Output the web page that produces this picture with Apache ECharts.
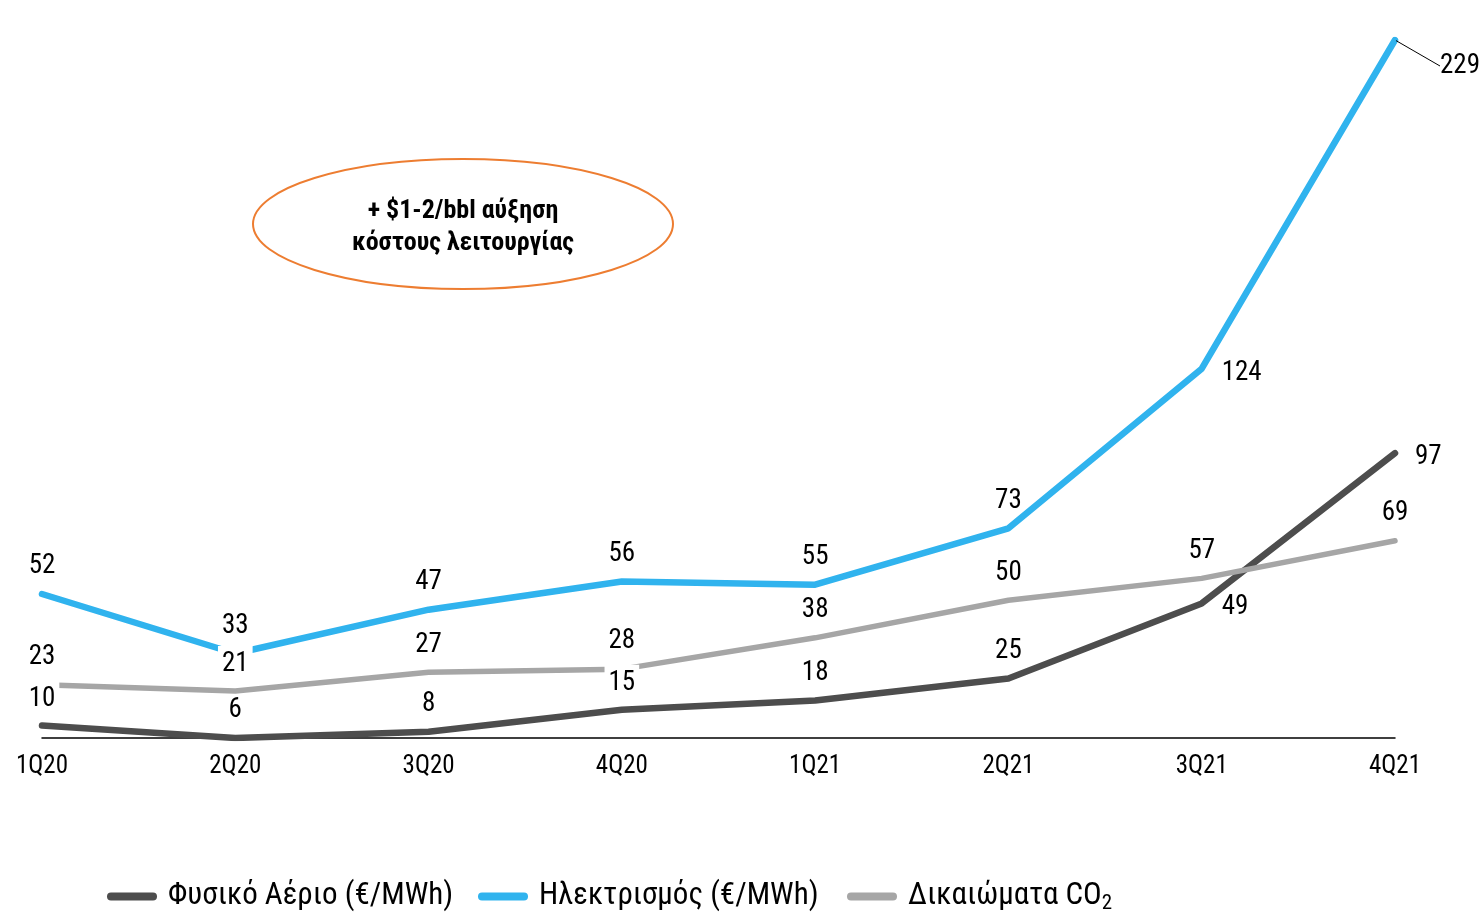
<!DOCTYPE html>
<html>
<head>
<meta charset="utf-8">
<script src="https://cdn.jsdelivr.net/npm/echarts@6/dist/echarts.min.js"></script>
<style>
html,body{margin:0;padding:0;background:#fff;}
#chart{width:1481px;height:915px;}
</style>
</head>
<body>
<div id="chart"></div>
<script>
const categories = ['1Q20','2Q20','3Q20','4Q20','1Q21','2Q21','3Q21','4Q21'];
const gasValues = [10, 6, 8, 15, 18, 25, 49, 97];
const powerValues = [52, 33, 47, 56, 55, 73, 124, 229];
const co2Values = [23, 21, 27, 28, 38, 50, 57, 69];
const seriesNames = ['Φυσικό Αέριο (€/MWh)', 'Ηλεκτρισμός (€/MWh)', 'Δικαιώματα CO2'];
const noteText = '+ $1-2/bbl αύξηση\nκόστους λειτουργίας';

const FONT = "'Roboto Condensed', 'Liberation Sans Narrow', 'Arial Narrow', Roboto, sans-serif";
const colors = ['#4D4D4D', '#30B3EE', '#A6A6A6'];
const lineWidths = [6.5, 6.5, 5.5];

const seriesValues = [gasValues, powerValues, co2Values];
// indices whose label sits to the right of the point (per series: gas, power, co2)
const rightMap = {0: [6, 7], 1: [6, 7], 2: []};
// labels drawn on a white box that masks the line behind them
const maskMap = {0: [0, 3], 1: [], 2: [1]};

function buildData(values, sIdx) {
  return values.map((v, i) => {
    const item = {value: v};
    if (rightMap[sIdx].indexOf(i) >= 0) {
      item.label = {position: 'right', distance: 16, offset: [0, 4]};
      if (sIdx === 1 && i === 7) {
        item.labelLine = {show: true, lineStyle: {color: '#000', width: 1}};
      }
    }
    if (maskMap[sIdx].indexOf(i) >= 0) {
      item.label = {backgroundColor: '#fff', padding: [5, 4, 0, 4], distance: 12};
    }
    return item;
  });
}

const labelStyle = {
  show: true,
  position: 'top',
  distance: 12,
  color: '#000',
  fontSize: 27,
  fontFamily: FONT,
  padding: [1, 3]
};

const chart = echarts.init(document.getElementById('chart'), null, {renderer: 'canvas'});

const series = seriesValues.map((vals, s) => ({
  name: seriesNames[s],
  type: 'line',
  data: buildData(vals, s),
  symbol: 'circle',
  symbolSize: 2,
  showSymbol: true,
  itemStyle: {color: colors[s]},
  lineStyle: {color: colors[s], width: lineWidths[s], cap: 'round', join: 'round'},
  label: labelStyle,
  labelLine: {show: false},
  labelLayout: s === 1 ? function (p) {
    if (p.dataIndex === 7) return {dx: 25, dy: 26};
    if (p.dataIndex === 6) return {dy: 5};
    return {};
  } : undefined,
  emphasis: {disabled: true}
}));

const legendIcon = 'path://M4,0L46,0A4,4,0,0,1,46,8L4,8A4,4,0,0,1,4,0Z';
const legendBase = {
  top: 881,
  padding: 0,
  icon: legendIcon,
  itemWidth: 50,
  itemHeight: 8,
  selectedMode: false,
  textStyle: {color: '#000', fontSize: 31, fontFamily: FONT, padding: [0, 0, 0, 6],
    rich: {
      a: {fontSize: 31, fontFamily: FONT, color: '#000'},
      s: {fontSize: 21, fontFamily: FONT, color: '#000', padding: [15, 0, 0, 0]}
    }
  }
};

const option = {
  animation: false,
  backgroundColor: '#fff',
  grid: {left: 42, right: 86, top: 40, bottom: 177},
  xAxis: {
    type: 'category',
    data: categories,
    boundaryGap: false,
    axisLine: {lineStyle: {color: '#000', width: 1.5}},
    axisTick: {show: false},
    axisLabel: {color: '#000', fontSize: 25, fontFamily: FONT, margin: 16},
    splitLine: {show: false}
  },
  yAxis: {type: 'value', min: 6, max: 229, show: false},
  legend: [
    Object.assign({}, legendBase, {left: 107, data: [seriesNames[0]]}),
    Object.assign({}, legendBase, {left: 478, data: [seriesNames[1]]}),
    Object.assign({}, legendBase, {left: 847, data: [seriesNames[2]],
      formatter: function () { return '{a|Δικαιώματα CO}{s|2}'; }})
  ],
  graphic: [
    {
      type: 'ellipse',
      shape: {cx: 463, cy: 224, rx: 210, ry: 65},
      style: {fill: 'rgba(0,0,0,0)', stroke: '#ED7D31', lineWidth: 2},
      z: 10
    },
    {
      type: 'text',
      x: 463, y: 227,
      style: {
        text: noteText,
        fontSize: 26, fontWeight: 'bold', fontFamily: FONT,
        fill: '#000', align: 'center', verticalAlign: 'middle', lineHeight: 32
      },
      z: 10
    }
  ],
  series: series
};
chart.setOption(option);
</script>
</body>
</html>
